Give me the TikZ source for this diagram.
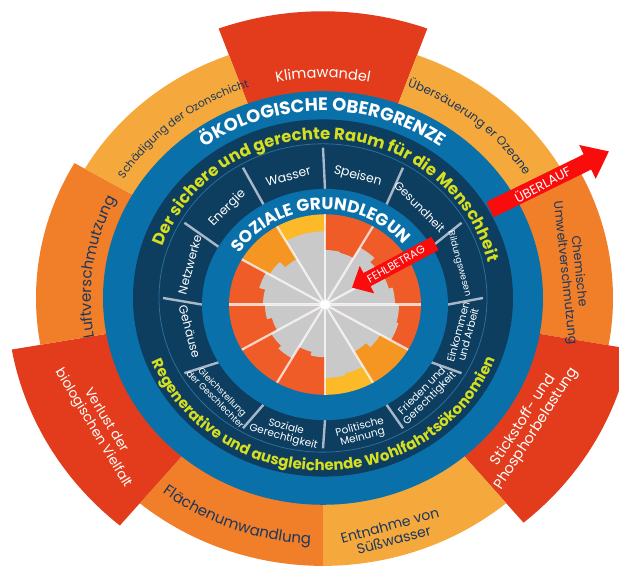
\documentclass[tikz,border=0pt]{standalone}
\usepackage{fontspec}
\setmainfont{Poppins}
\usetikzlibrary{arrows.meta,decorations.text}

\definecolor{ringblue}{RGB}{10,112,170}
\definecolor{navy}{RGB}{13,61,95}
\definecolor{thinline}{RGB}{45,110,155}
\definecolor{lime}{RGB}{214,222,32}
\definecolor{segred}{RGB}{226,60,28}
\definecolor{segorange}{RGB}{241,126,40}
\definecolor{seglight}{RGB}{245,169,60}
\definecolor{inkblue}{RGB}{25,55,95}
\definecolor{inngrey}{RGB}{201,201,201}
\definecolor{innred}{RGB}{240,92,40}
\definecolor{innorange}{RGB}{246,150,34}
\definecolor{innyellow}{RGB}{252,185,40}
\definecolor{divgrey}{RGB}{168,184,200}
\definecolor{alarm}{RGB}{250,12,12}

\begin{document}
\begin{tikzpicture}[x=1pt,y=1pt,yscale=0.94,
    along/.style={decorate,decoration={text along path,text align=center,text={#1}}},
    seclabel/.style={text=white,align=center,inner sep=0pt,font=\fontsize{10.5}{11}\selectfont},
    ceillabel/.style={text=inkblue,align=center,inner sep=0pt,font=\fontsize{12.5}{14}\selectfont},
    tablabel/.style={ceillabel,text=white},
    divider/.style={divgrey,line width=2.4pt},
    spoke/.style={white,opacity=.75,line width=2.2pt},
    bigarrow/.style={alarm,line width=#1}]

    \useasboundingbox (-323,-296.8) rectangle (296,317);

    % ecological ceiling
    \foreach \a/\r/\c in {70/305/segred,30/275/seglight,-10/290/segorange,
            -50/312/segred,-90/285/seglight,-130/285/segorange,
            -170/316/segred,150/287/segorange,110/275/seglight}
        \fill[\c] (0,0) -- (\a:\r) arc[start angle=\a,delta angle=40,radius=\r pt] -- cycle;

    \fill[ringblue] (0,0) circle[radius=220pt];
    \fill[navy] (0,0) circle[radius=190pt];
    \draw[thinline,line width=.8pt] (0,0) circle[radius=164pt];
    \foreach \a in {0,30,...,330}
        \draw[divider] ([shift={(2,-7)}]\a:123) -- (\a:160);

    % social foundation
    \begin{scope}[shift={(2,-7)}]
        \fill[ringblue] (0,0) circle[radius=123pt];
        \foreach \a/\g/\h/\c in {0/70/66/innred,30/64/70/innred,60/57/58/innred,90/78/78/innyellow,
                120/56/64/innorange,150/68/62/innred,180/60/55/innred,210/62/66/innred,
                240/52/56/innred,270/78/76/innyellow,300/58/64/innorange,330/76/74/innred} {
            \fill[\c] (0,0) -- (\a:96) arc[start angle=\a,delta angle=30,radius=96pt] -- cycle;
            \fill[inngrey] (0,0) -- (\a:\g) arc[start angle=\a,delta angle=15,radius=\g pt]
                -- ++(0,0) -- (\a+15:\h) arc[start angle=\a+15,delta angle=15,radius=\h pt] -- cycle;
        }
        \foreach \a in {0,30,...,330}
            \draw[spoke] (0,0) -- (\a:96);
        \fill[white] (0,0) circle[radius=5pt];
        \path[along={|\color{white}\bfseries\fontsize{17}{19}\selectfont|SOZIALE GRUNDLEGUN}]
            (178:101) arc[start angle=178,end angle=9,radius=101pt];
    \end{scope}

    % ring titles
    \path[along={|\color{white}\bfseries\fontsize{18}{20}\selectfont|ÖKOLOGISCHE OBERGRENZE}]
        (175:199) arc[start angle=175,end angle=5,radius=199pt];
    \path[along={|\color{lime}\bfseries\fontsize{16.5}{19}\selectfont|Der sichere und gerechte Raum für die Menschheit}]
        (177:169) arc[start angle=177,end angle=-3,radius=169pt];
    \path[along={|\color{lime}\bfseries\fontsize{15}{18}\selectfont|Regenerative und ausgleichende Wohlfahrtsökonomien}]
        (-179:184) arc[start angle=-179,end angle=0,radius=184pt];

    % sector labels
    \foreach \a/\r/\t/\s/\f [count=\i] in {105/134/15/Wasser/12.5,75/134/-15/Speisen/12.5,
            45/137/-45/Gesundheit/11.5,15/141/-75/Bildungswesen/9,
            -15/145/75/{Einkommen\\und Arbeit}/10.5,-45/146/45/{Frieden und\\Gerechtigkeit}/10.5,
            -75/148/15/{Politische\\Meinung}/10.5,-105/148/-15/{Soziale\\Gerechtigkeit}/10.5,
            -135/147/-45/{Gleichstellung\\der Geschlechter}/9,-165/138/-75/Gehäuse/12,
            165/138/75/Netzwerke/12,135/135/45/Energie/12.5}
        \node[seclabel,rotate=\t,font=\fontsize{\f}{\f}\selectfont] (sec\i) at (\a:\r) {\s};

    % ceiling labels
    \path[along={|\color{white}\fontsize{14.5}{16}\selectfont|Klimawandel}]
        (150:234) arc[start angle=150,end angle=30,radius=234pt];
    \path[along={|\color{inkblue}\fontsize{12}{14}\selectfont|Übersäuerung er Ozeane}]
        (110:240) arc[start angle=110,end angle=-10,radius=240pt];
    \path[along={|\color{inkblue}\fontsize{11}{13}\selectfont|Schädigung der Ozonschicht}]
        (189:236) arc[start angle=189,end angle=69,radius=236pt];
    \path[along={|\color{inkblue}\fontsize{15}{17}\selectfont|Luftverschmutzung}]
        (232:232) arc[start angle=232,end angle=112,radius=232pt];
    \path[along={|\color{inkblue}\fontsize{15}{17}\selectfont|Flächenumwandlung}]
        (-171:262) arc[start angle=-171,end angle=-51,radius=262pt];
    \node[ceillabel,rotate=-84] (chem) at (6.3:250) {Chemische\\Umweltverschmutzung};
    \node[tablabel,rotate=57,font=\fontsize{14.5}{15.5}\selectfont] (stick) at (-33:247) {Stickstoff- und\\Phosphorbelastung};
    \node[ceillabel,rotate=15.4,font=\fontsize{14}{15}\selectfont] (susw) at (-74.6:259) {Entnahme von\\Süßwasser};
    \node[tablabel,rotate=-59,font=\fontsize{13.5}{15}\selectfont] (verl) at (-149:261) {Verlust der\\biologischen Vielfalt};

    % overshoot and shortfall
    \coordinate (ovA) at (167,94);
    \coordinate (ovB) at (286,156);
    \coordinate (fbA) at (112,58);
    \coordinate (fbB) at (29,11);
    \draw[bigarrow=17pt,-{Triangle[length=24pt,width=36pt]}] (ovA) --
        node[pos=.44,sloped,text=white,font=\fontsize{13}{13}\selectfont] (ovtext) {ÜBERLAUF} (ovB);
    \draw[bigarrow=15pt,-{Triangle[length=17pt,width=30pt]}] (fbA) --
        node[pos=.47,sloped,text=white,font=\fontsize{11}{11}\selectfont] (fbtext) {FEHLBETRAG} (fbB);
\end{tikzpicture}
\end{document}
